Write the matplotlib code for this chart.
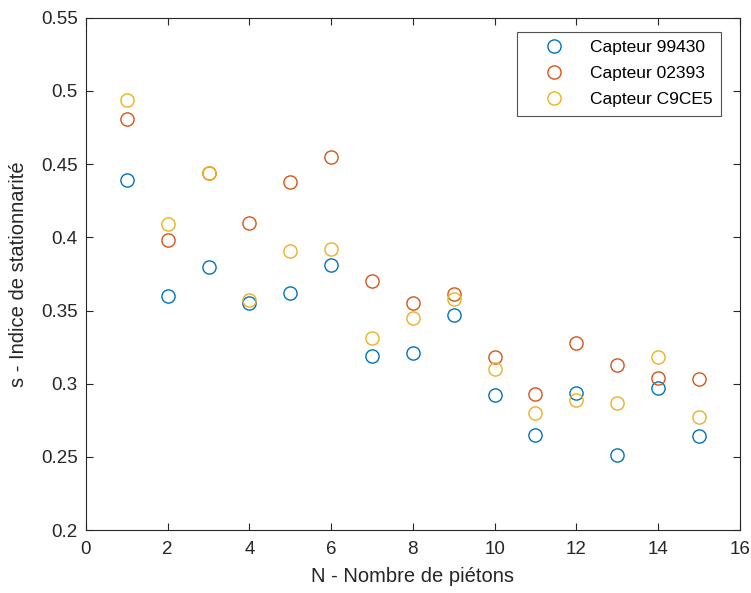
import numpy as np
import matplotlib
matplotlib.use("Agg")
import matplotlib.pyplot as plt

plt.rcParams['font.family'] = ['Liberation Sans', 'DejaVu Sans']

# nombre de pietons
n_pietons = np.arange(1, 16)

# indice de stationnarite par capteur
capteur_99430 = [0.439, 0.360, 0.380, 0.355, 0.362, 0.381, 0.319, 0.321,
                 0.347, 0.292, 0.265, 0.294, 0.251, 0.297, 0.264]
capteur_02393 = [0.481, 0.398, 0.444, 0.410, 0.438, 0.455, 0.370, 0.355,
                 0.361, 0.318, 0.293, 0.328, 0.313, 0.304, 0.303]
capteur_C9CE5 = [0.494, 0.409, 0.444, 0.357, 0.391, 0.392, 0.331, 0.345,
                 0.358, 0.310, 0.280, 0.289, 0.287, 0.318, 0.277]

series = [("Capteur 99430", capteur_99430, (0.0, 0.447, 0.741)),
          ("Capteur 02393", capteur_02393, (0.85, 0.325, 0.098)),
          ("Capteur C9CE5", capteur_C9CE5, (0.929, 0.694, 0.125))]

fig = plt.figure(figsize=(7.51, 5.93), dpi=100)
ax = fig.add_axes([0.1145, 0.106, 0.8705, 0.864])

for label, vals, col in series:
    ax.plot(n_pietons, vals, 'o', linestyle='none', markersize=9.5,
            markerfacecolor='none', markeredgecolor=col,
            markeredgewidth=1.0, label=label)

ax.set_xlim(0, 16)
ax.set_ylim(0.2, 0.55)
ax.set_xticks(np.arange(0, 17, 2))
ax.set_yticks(np.arange(0.2, 0.551, 0.05))
ax.set_yticklabels(["0.2", "0.25", "0.3", "0.35", "0.4", "0.45", "0.5", "0.55"])

grey = (0.15, 0.15, 0.15)
for sp in ax.spines.values():
    sp.set_color(grey)
    sp.set_linewidth(0.8)
ax.tick_params(direction='in', length=5, width=0.8, colors=grey,
               labelsize=13.5, top=True, right=True, pad=6)
ax.tick_params(axis='x', pad=8)

ax.set_xlabel("N - Nombre de piétons", fontsize=14.5, color=grey, labelpad=6)
ax.set_ylabel("s - Indice de stationnarité", fontsize=14.5, color=grey, labelpad=9)

# legende en haut a droite, un peu decalee vers la gauche
leg = ax.legend(loc='upper right', bbox_to_anchor=(0.972, 0.973),
                fontsize=12.5, frameon=True, fancybox=False,
                edgecolor=grey, borderaxespad=0.0, handletextpad=0.45,
                labelspacing=0.62, borderpad=0.5, handlelength=3.25)
leg.get_frame().set_linewidth(0.8)

fig.savefig("out.png", dpi=100)
